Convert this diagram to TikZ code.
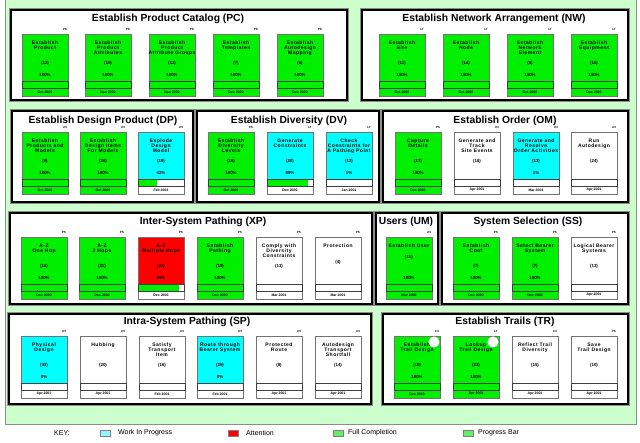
\documentclass[tikz,border=0pt]{standalone}
\usepackage{fontspec}
\setmainfont{Liberation Sans}
\newfontfamily\boxfont[LetterSpace=10]{Liberation Sans}
\usetikzlibrary{positioning, calc}

\definecolor{bgreen}{RGB}{204,255,204}
\definecolor{done}{RGB}{0,240,0}
\colorlet{donedate}{done}
\definecolor{wip}{RGB}{0,255,255}
\colorlet{wipdate}{white}
\definecolor{alert}{RGB}{255,0,0}
\colorlet{alertdate}{white}
\colorlet{todo}{white}
\colorlet{tododate}{white}
\colorlet{progress}{done}
\definecolor{wipkey}{RGB}{150,245,255}
\definecolor{fullkey}{RGB}{100,240,100}

% one activity box: [count offset] name, top-left, tag, label, count, percent (-1 = none), date, status
\newcommand\activity[9][29]{%
  \begin{scope}[shift={(#3)}]
    \node[taskbox, fill=#9] (#2) at (23,31) {};
    \node[daterow, fill=#9date] (#2-date) at (23,58) {#8};
    \fill[white] (0,47) rectangle (46,54);
    \ifnum#7>0 \fill[progress] (0,47) rectangle (0.46*#7,54);\fi
    \node[barrow] (#2-bar) at (23,50.5) {};
    \node[taglabel] (#2-tag) at (45,-5) {#4};
    \node[namelabel] (#2-name) at (23,6.5) {#5};
    \node[numlabel] (#2-count) at (23,#1) {(#6)};
    \ifnum#7<0 \else\node[numlabel] (#2-pct) at (23,41) {#7\%};\fi
  \end{scope}}

\begin{document}
\begin{tikzpicture}[x=1pt, y=-1pt,
    panel/.style={draw=black, line width=2.4pt, fill=white, anchor=north west,
      inner sep=0pt, outer sep=0pt, preaction={draw=black!45, line width=3.6pt}},
    paneltitle/.style={font=\bfseries\fontsize{10.3}{12}\selectfont, inner sep=0pt},
    taskbox/.style={draw=black!55, line width=0.5pt, minimum width=46pt,
      minimum height=62pt, inner sep=0pt, outer sep=0pt},
    daterow/.style={draw=black!55, line width=0.5pt, minimum width=46pt, minimum height=8pt,
      inner sep=0pt, outer sep=0pt, font=\bfseries\fontsize{3.5}{4}\selectfont},
    barrow/.style={draw=black!75, line width=0.5pt, minimum width=46pt, minimum height=7pt,
      inner sep=0pt, outer sep=0pt},
    taglabel/.style={anchor=east, inner sep=0pt, font=\bfseries\fontsize{3}{3.5}\selectfont},
    namelabel/.style={anchor=north, align=center, inner sep=0pt,
      font=\boxfont\bfseries\fontsize{5}{5.3}\selectfont},
    numlabel/.style={inner sep=0pt, font=\bfseries\fontsize{4.4}{5}\selectfont},
    blob/.style={circle, fill=white, minimum size=11pt, inner sep=0pt},
    swatch/.style={draw=black!50, line width=0.5pt, minimum width=10pt, minimum height=6pt, inner sep=0pt},
    keytext/.style={inner sep=0pt, font=\fontsize{7}{8}\selectfont}]
\useasboundingbox (0,0) rectangle (640,443);
\node[draw=black!45, line width=0.8pt, fill=bgreen, minimum width=631pt, minimum height=430pt,
  anchor=north west, inner sep=0pt] (frame) at (5,-6) {};

% panels
\node[panel, minimum width=336pt, minimum height=90pt] (pc) at (11,10) {};
\node[panel, minimum width=266pt, minimum height=90pt] (nw) at (362,10) {};
\node[panel, minimum width=181pt, minimum height=91pt] (dp) at (12,111) {};
\node[panel, minimum width=182pt, minimum height=91pt] (dv) at (197,111) {};
\node[panel, minimum width=245pt, minimum height=91pt] (om) at (383,111) {};
\node[panel, minimum width=362pt, minimum height=91pt] (xp) at (10,213) {};
\node[panel, minimum width=62pt, minimum height=91pt] (um) at (376,213) {};
\node[panel, minimum width=186pt, minimum height=91pt] (ss) at (442,213) {};
\node[panel, minimum width=362pt, minimum height=90pt] (sp) at (9,314) {};
\node[panel, minimum width=245pt, minimum height=90pt] (tr) at (383,314) {};

\node[paneltitle] (pc-title) at (168,19) {Establish Product Catalog (PC)};
\node[paneltitle] (nw-title) at (494,19) {Establish Network Arrangement (NW)};
\node[paneltitle] (dp-title) at (103,121) {Establish Design Product (DP)};
\node[paneltitle] (dv-title) at (289,121) {Establish Diversity (DV)};
\node[paneltitle] (om-title) at (505,121) {Establish Order (OM)};
\node[paneltitle] (xp-title) at (203,222) {Inter-System Pathing (XP)};
\node[paneltitle] (um-title) at (406,222) {Users (UM)};
\node[paneltitle] (ss-title) at (528,222) {System Selection (SS)};
\node[paneltitle] (sp-title) at (187,322) {Intra-System Pathing (SP)};
\node[paneltitle] (tr-title) at (505,322) {Establish Trails (TR)};

% row 1
\activity{pc1}{22,34}{PS}{Establish\\Product}{12}{100}{Oct 2000}{done}
\activity{pc2}{85,34}{PS}{Establish\\Product\\Attributes}{15}{100}{Nov 2000}{done}
\activity{pc3}{149,34}{PS}{Establish\\Product\\Attribute Groups}{12}{100}{Nov 2000}{done}
\activity{pc4}{213,34}{PS}{Establish\\Templates}{7}{100}{Dec 2000}{done}
\activity{pc5}{277,34}{PS}{Establish\\Autodesign\\Mapping}{6}{100}{Dec 2000}{done}
\activity{nw1}{379,34}{LT}{Establish\\Site}{11}{100}{Oct 2000}{done}
\activity{nw2}{443,34}{LT}{Establish\\Node}{14}{100}{Oct 2000}{done}
\activity{nw3}{507,34}{LT}{Establish\\Network\\Element}{9}{100}{Oct 2000}{done}
\activity{nw4}{571,34}{LT}{Establish\\Equipment}{15}{100}{Dec 2000}{done}

% row 2
\activity{dp1}{22,132}{JH}{Establish\\Products and\\Models}{9}{100}{Oct 2000}{done}
\activity{dp2}{80,132}{JH}{Establish\\Design Items\\For Models}{26}{100}{Oct 2000}{done}
\activity{dp3}{138,132}{JH}{Explode\\Design\\Model}{19}{42}{Feb 2001}{wip}
\activity{dv1}{208,132}{PS}{Establish\\Diversity\\Levels}{19}{100}{Oct 2000}{done}
\activity{dv2}{267,132}{LT}{Generate\\Constraints}{20}{89}{Dec 2000}{wip}
\activity{dv3}{326,132}{LT}{Check\\Constraints for\\A Pathing Point}{13}{1}{Jan 2001}{wip}
\activity{om1}{395,132}{PS}{Capture\\Details}{17}{100}{Dec 2000}{done}
\activity{om2}{454,132}{JH}{Generate and\\Track\\Site Events}{16}{-1}{Apr 2001}{todo}
\activity{om3}{513,132}{JH}{Generate and\\Resolve\\Order Activities}{13}{1}{Mar 2001}{wip}
\activity{om4}{571,132}{JH}{Run\\Autodesign}{24}{-1}{Apr 2001}{todo}

% row 3
\activity{xp1}{21,237}{PS}{A-Z\\One Hop}{14}{100}{Dec 2000}{done}
\activity{xp2}{79,237}{PS}{A-Z\\2 Hops}{21}{100}{Dec 2000}{done}
\activity{xp3}{138,237}{PS}{A-Z\\Multiple Hops}{22}{89}{Dec 2000}{alert}
\activity{xp4}{197,237}{PS}{Establish\\Pathing}{19}{100}{Dec 2000}{done}
\activity{xp5}{256,237}{PS}{Comply with\\Diversity\\Constraints}{13}{-1}{Mar 2001}{todo}
\activity[25]{xp6}{315,237}{PS}{Protection}{4}{-1}{Mar 2001}{todo}
\activity[20]{um1}{386,237}{JH}{Establish User}{11}{100}{Nov 2000}{done}
\activity{ss1}{453,237}{PS}{Establish\\Cost}{7}{100}{Dec 2000}{done}
\activity{ss2}{512,237}{PS}{Select Bearer\\System}{7}{100}{Dec 2000}{done}
\activity{ss3}{571,237}{PS}{Logical Bearer\\Systems}{13}{-1}{Apr 2001}{todo}

% row 4
\activity{sp1}{21,336}{JH}{Physical\\Design}{33}{0}{Apr 2001}{wip}
\activity{sp2}{80,336}{JH}{Hubbing}{20}{-1}{Apr 2001}{todo}
\activity{sp3}{139,336}{JH}{Satisfy\\Transport\\Item}{16}{-1}{Feb 2001}{todo}
\activity{sp4}{197,336}{JH}{Route through\\Bearer System}{25}{0}{Feb 2001}{wip}
\activity{sp5}{256,336}{JH}{Protected\\Route}{8}{-1}{Apr 2001}{todo}
\activity{sp6}{315,336}{JH}{Autodesign\\Transport\\Shortfall}{14}{-1}{Apr 2001}{todo}
\activity{tr1}{394,336}{C4}{Establish\\Trail Design}{15}{100}{Dec 2000}{done}
\activity{tr2}{453,336}{LT}{Lookup\\Trail Design}{23}{100}{Apr 2001}{done}
\activity{tr3}{512,336}{C4}{Reflect Trail\\Diversity}{15}{-1}{Apr 2001}{todo}
\activity{tr4}{571,336}{PS}{Save\\Trail Design}{10}{-1}{Apr 2001}{todo}
\node[blob] (tr1-blob) at ($(tr1.north west)+(40,6)$) {};
\node[blob] (tr2-blob) at ($(tr2.north west)+(40,6)$) {};

% key
\node[keytext] (key) at (62,433) {KEY:};
\node[swatch, fill=wipkey] (key-wip) at (105.5,433) {};
\node[keytext, anchor=west] (key-wip-text) at (118,433) {Work In Progress};
\node[swatch, fill=alert] (key-alert) at (233.5,433) {};
\node[keytext, anchor=west] (key-alert-text) at (246,433) {Attention};
\node[swatch, fill=fullkey] (key-done) at (338,433) {};
\node[keytext, anchor=west] (key-done-text) at (348,433) {Full Completion};
\node[swatch, fill=fullkey] (key-bar) at (468,433) {};
\node[keytext, anchor=west] (key-bar-text) at (478,433) {Progress Bar};
\end{tikzpicture}
\end{document}
